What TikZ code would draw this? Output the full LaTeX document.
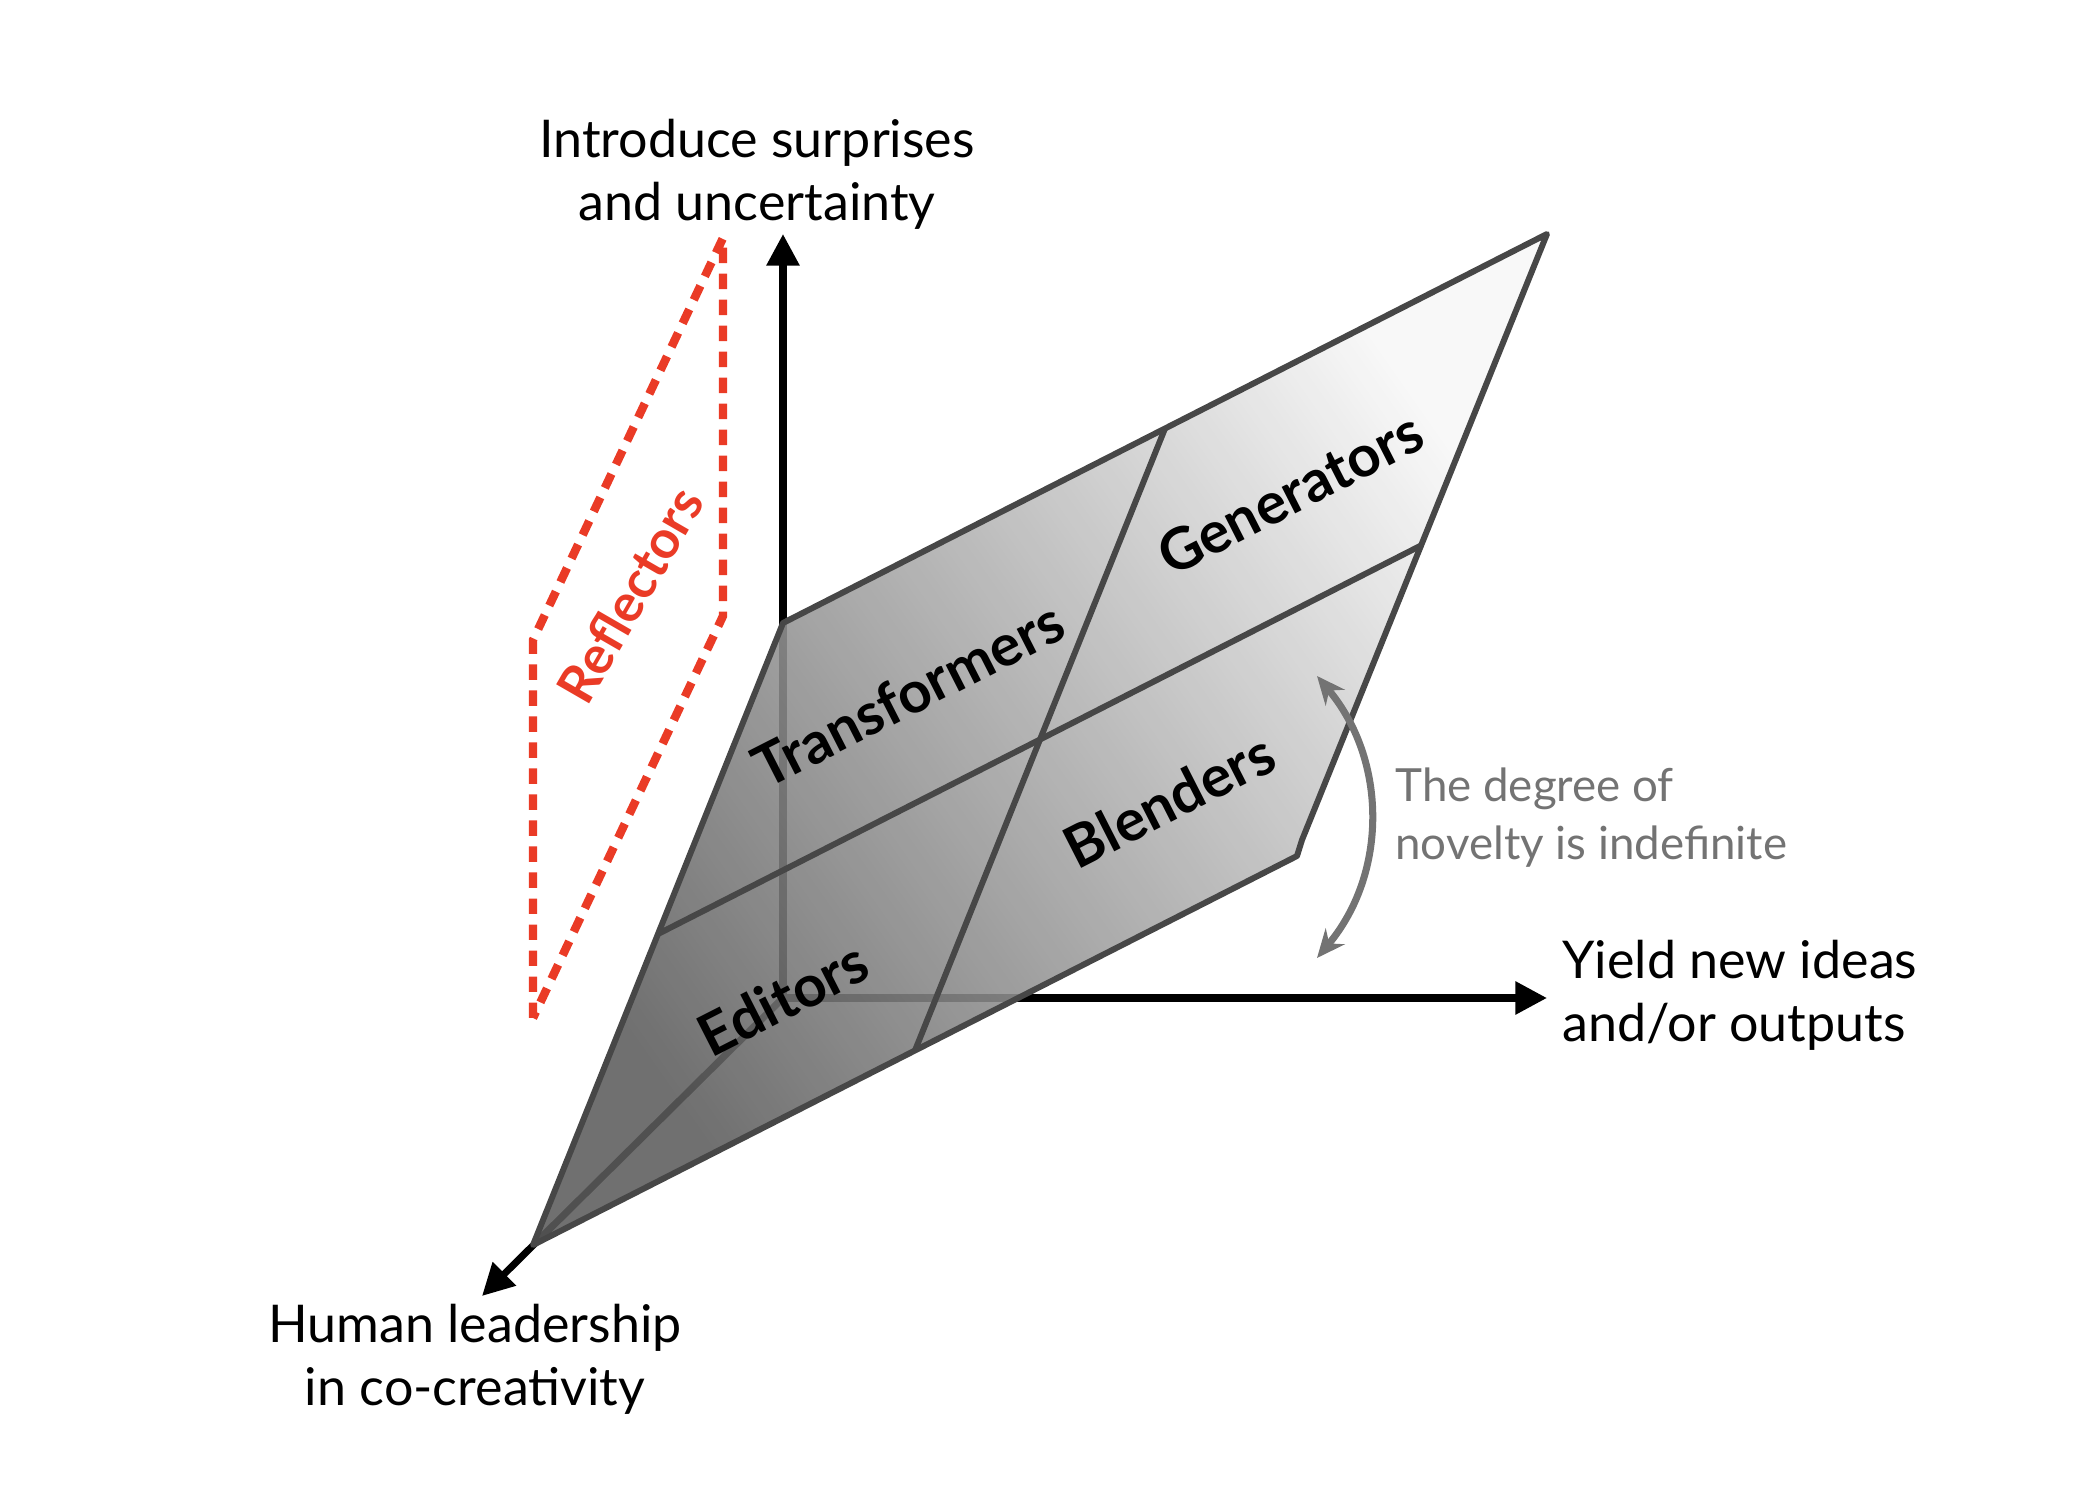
\documentclass[tikz,border=0pt]{standalone}
\usepackage{fontspec}
\setmainfont{Lato}
\usetikzlibrary{arrows.meta,calc}

\definecolor{reflred}{HTML}{EA3B26}
\definecolor{edgegray}{HTML}{474747}
\definecolor{novgray}{HTML}{737373}

\begin{document}
\begin{tikzpicture}[
        axis/.style={-{Triangle[length=9pt,width=9pt]}, line width=2pt},
        edge/.style={draw=edgegray, line width=1.7pt, line join=round},
        cell/.style={font=\fontsize{16.5}{19}\selectfont\bfseries, rotate=27},
        axlabel/.style={font=\fontsize{14.8}{18}\selectfont, align=center}
    ]
        \useasboundingbox (0,0) rectangle (21,15);

        % axes
        \coordinate (O) at (7.83,5.02);
        \coordinate (up) at (7.83,12.66);
        \coordinate (right) at (15.47,5.02);
        \coordinate (front) at (4.82,2.04);
        \draw[axis] (O) -- (up);
        \draw[axis] (O) -- (right);
        \draw[axis] (O) -- (front);

        % the plane (Editors, Transformers, Blenders, Generators)
        \coordinate (A) at (5.33,2.55);
        \coordinate (B) at (7.83,8.77);
        \coordinate (C) at (15.47,12.66);
        \coordinate (D) at (12.97,6.44);
        \coordinate (Dk) at (13.02,6.60);
        \shade[top color=black!64, bottom color=black!3, shading angle=125, fill opacity=0.88]
            (A) -- (B) -- (C) -- (Dk) -- (D) -- cycle;
        \draw[edge] ($(A)!0.5!(D)$) -- ($(B)!0.5!(C)$);
        \draw[edge] ($(A)!0.5!(B)$) -- ($(D)!0.5!(C)$);
        \draw[edge] (A) -- (B) -- (C) -- (Dk) -- (D) -- cycle;

        \node[cell] (edi) at (7.83,5.02) {Editors};
        \node[cell] (tra) at (9.08,8.06) {Transformers};
        \node[cell] (ble) at (11.69,7.00) {Blenders};
        \node[cell] (gen) at (12.90,10.07) {Generators};

        % Reflectors
        \coordinate (R1) at (5.33,8.60);
        \coordinate (R2) at (7.23,12.62);
        \coordinate (R3) at (7.23,8.84);
        \coordinate (R4) at (5.33,4.82);
        \draw[reflred, line width=2.4pt, dash pattern=on 4.4pt off 3pt]
            (R4) -- (R1) -- (R2) -- (R3) -- cycle;
        \node[font=\fontsize{15}{17}\selectfont\bfseries, text=reflred, rotate=60] (refl) at (6.30,9.05) {Reflectors};

        % degree of novelty
        \coordinate (nb) at (13.17,5.42);
        \coordinate (nt) at (13.17,8.24);
        \draw[novgray, line width=2pt, {Stealth[length=8pt,width=7pt]}-{Stealth[length=8pt,width=7pt]}] (nb) to[bend right=40] (nt);
        \node[font=\fontsize{13}{16.5}\selectfont, text=novgray, align=left, anchor=west] (nov) at (13.83,6.82) {The degree of\\novelty is indefinite};

        % axis labels
        \node[axlabel] (upl) at (7.57,13.26) {Introduce surprises\\and uncertainty};
        \node[axlabel] (frl) at (4.75,1.41) {Human leadership\\in co-creativity};
        \node[axlabel, align=left, anchor=west] (rtl) at (15.50,5.05) {Yield new ideas\\and/or outputs};
    \end{tikzpicture}
\end{document}
